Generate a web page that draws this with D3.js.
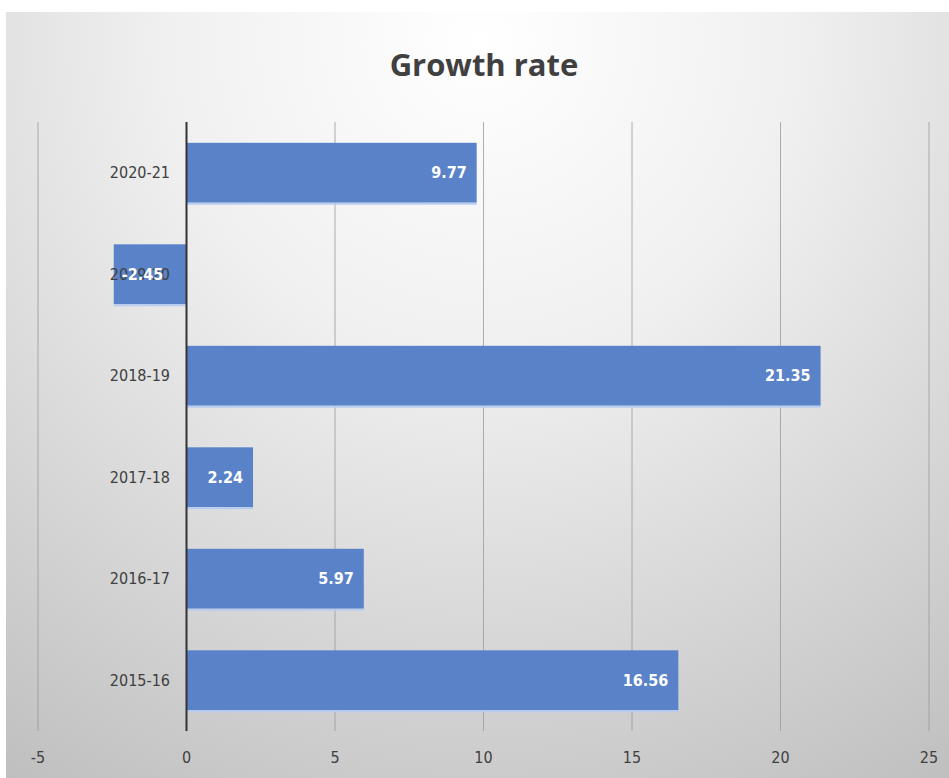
<!DOCTYPE html>
<html>
<head>
<meta charset="utf-8">
<script src="https://cdn.jsdelivr.net/npm/d3@7"></script>
<style>
  body { margin: 0; background: #fff; }
  svg { display: block; }
</style>
</head>
<body>
<div id="chart"></div>
<script>
var categories = ["2015-16", "2016-17", "2017-18", "2018-19", "2019-20", "2020-21"];
var values = [16.56, 5.97, 2.24, 21.35, -2.45, 9.77];
var xTicks = [-5, 0, 5, 10, 15, 20, 25];
var title = "Growth rate";

var width = 949, height = 778;
var margin = { top: 122, right: 20, bottom: 47, left: 38 };
var labelFont = "'DejaVu Sans Condensed', 'Open Sans', sans-serif";

var svg = d3.select("#chart").append("svg")
    .attr("width", width)
    .attr("height", height);

// background, white in the top middle and grey towards the edges
var defs = svg.append("defs");
var grad = defs.append("radialGradient")
    .attr("id", "bg")
    .attr("gradientUnits", "userSpaceOnUse")
    .attr("cx", 480).attr("cy", 40).attr("r", 900);
grad.append("stop").attr("offset", "0%").attr("stop-color", "#ffffff");
grad.append("stop").attr("offset", "35%").attr("stop-color", "#f0f0f0");
grad.append("stop").attr("offset", "100%").attr("stop-color", "#bdbdbd");

svg.append("rect")
    .attr("x", 6).attr("y", 12)
    .attr("width", width - 6).attr("height", height - 12)
    .attr("fill", "url(#bg)");

var x = d3.scaleLinear()
    .domain([-5, 25])
    .range([38, 929]);

var y = d3.scaleBand()
    .domain(categories.slice().reverse())
    .range([margin.top, height - margin.bottom])
    .paddingInner(0.41)
    .paddingOuter(0.205);

// vertical gridlines
svg.append("g")
    .selectAll("line")
    .data(xTicks.filter(d => d !== 0))
    .enter().append("line")
    .attr("x1", d => x(d)).attr("x2", d => x(d))
    .attr("y1", margin.top).attr("y2", height - margin.bottom)
    .attr("stroke", "#9a9a9a")
    .attr("stroke-width", 0.8);

// tick labels along the bottom
svg.append("g")
    .selectAll("text")
    .data(xTicks)
    .enter().append("text")
    .attr("x", d => x(d))
    .attr("y", 763)
    .attr("text-anchor", "middle")
    .attr("font-family", labelFont)
    .attr("font-size", 16)
    .attr("fill", "#404040")
    .text(d => d);

// bars
var data = categories.map((c, i) => ({ cat: c, val: values[i] }));

svg.append("g")
    .selectAll("rect")
    .data(data)
    .enter().append("rect")
    .attr("x", d => x(Math.min(0, d.val)))
    .attr("y", d => y(d.cat))
    .attr("width", d => Math.abs(x(d.val) - x(0)))
    .attr("height", y.bandwidth())
    .attr("fill", "#5a82c8");

// light edge under each bar
svg.append("g")
    .selectAll("line")
    .data(data)
    .enter().append("line")
    .attr("x1", d => x(Math.min(0, d.val)))
    .attr("x2", d => x(Math.max(0, d.val)))
    .attr("y1", d => y(d.cat) + y.bandwidth() + 1)
    .attr("y2", d => y(d.cat) + y.bandwidth() + 1)
    .attr("stroke", "#b8cdf0")
    .attr("stroke-width", 2);

// zero axis line
svg.append("line")
    .attr("x1", x(0)).attr("x2", x(0))
    .attr("y1", margin.top).attr("y2", height - margin.bottom)
    .attr("stroke", "#333")
    .attr("stroke-width", 2);

// category labels
svg.append("g")
    .selectAll("text")
    .data(categories)
    .enter().append("text")
    .attr("x", 170)
    .attr("y", d => y(d) + y.bandwidth() / 2)
    .attr("dy", "0.35em")
    .attr("text-anchor", "end")
    .attr("font-family", labelFont)
    .attr("font-size", 16)
    .attr("fill", "#404040")
    .text(d => d);

// value labels inside the bar ends
svg.append("g")
    .selectAll("text")
    .data(data)
    .enter().append("text")
    .attr("x", d => d.val >= 0 ? x(d.val) - 10 : x(d.val) + 8)
    .attr("y", d => y(d.cat) + y.bandwidth() / 2)
    .attr("dy", "0.35em")
    .attr("text-anchor", d => d.val >= 0 ? "end" : "start")
    .attr("font-family", labelFont)
    .attr("font-weight", "bold")
    .attr("font-size", 16)
    .attr("fill", "#ffffff")
    .text(d => d.val.toFixed(2));

svg.append("text")
    .attr("x", 484)
    .attr("y", 76)
    .attr("text-anchor", "middle")
    .attr("font-family", "'Open Sans', sans-serif")
    .attr("font-weight", "bold")
    .attr("font-size", 31)
    .attr("fill", "#404040")
    .text(title);
</script>
</body>
</html>
